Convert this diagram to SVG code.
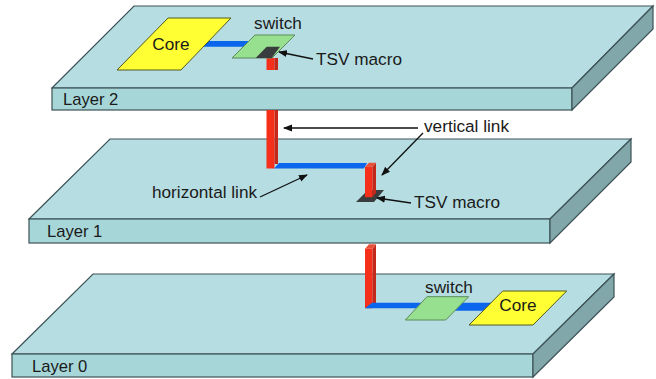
<svg xmlns="http://www.w3.org/2000/svg" width="656" height="379" viewBox="0 0 656 379">
<defs>
<marker id="ah" markerWidth="9" markerHeight="8" refX="8" refY="4" orient="auto" markerUnits="userSpaceOnUse"><path d="M0,0.5 L9,4 L0,7.5 Z" fill="#111"/></marker>
</defs>
<style>
text{font-family:"Liberation Sans",Arial,sans-serif;font-size:17.2px;fill:#1a1a1a}
.top{fill:#b6dde2;stroke:#3c5257;stroke-width:1.2}
.front{fill:#a7d6d9;stroke:#3c5257;stroke-width:1.2}
.side{fill:#82a7aa;stroke:#3c5257;stroke-width:1.2}
.red{fill:#f5301a}
.redside{fill:#c4281a}
.redtop{fill:#e8503c}
.blue{fill:#0b66ee}
.core{fill:#ffff33;stroke:#555a20;stroke-width:1}
.sw{fill:#96e08f;stroke:#5c8a5c;stroke-width:1}
.tsv{fill:#3a3d3d}
.arrow{stroke:#111;stroke-width:1.3;fill:none;marker-end:url(#ah)}
</style>
<rect width="656" height="379" fill="#fff"/>
<g id="layer0">
<polygon class="top" points="93,274 614,274 533,354 12,354"/>
<rect class="front" x="12" y="354" width="521" height="23"/>
<polygon class="side" points="614,274 614,297 533,377 533,354"/>
<text x="32" y="372" style="font-size:16.6px">Layer 0</text>
</g>
<g id="layer1">
<polygon class="top" points="110,139 631,139 550,219 29,219"/>
<rect class="front" x="29" y="219" width="521" height="24"/>
<polygon class="side" points="631,139 631,162 550,243 550,219"/>
<text x="47" y="237" style="font-size:16.6px">Layer 1</text>
</g>
<g id="layer2">
<polygon class="top" points="134,6 653,6 572,88 52,88"/>
<rect class="front" x="52" y="88" width="520" height="22"/>
<polygon class="side" points="653,6 653,29 572,110 572,88"/>
<text x="63" y="105" style="font-size:16.6px">Layer 2</text>
</g>
<g id="connectors">
<polygon class="blue" points="203,46.7 208,41 250,41 246,46.7"/>
<rect class="red" x="266.5" y="58" width="8" height="12"/>
<rect class="redside" x="274.5" y="58" width="3.5" height="12"/>
<rect class="red" x="266.5" y="110" width="8" height="58.5"/>
<rect class="redside" x="274.5" y="110" width="3.5" height="54"/>
<polygon class="blue" points="274,168.5 279,163 367,163 364,168.5"/>
<polygon class="tsv" points="356,202 368,190 384,190 374,202"/>
<polygon class="redtop" points="365,166.7 369,162.7 376,162.7 372.3,166.7"/>
<rect class="red" x="365" y="166.7" width="7.5" height="30.5"/>
<polygon class="redside" points="372.5,166.7 376,162.7 376,193 372.5,197"/>
<polygon class="redtop" points="365,248.7 369,244.3 376,244.3 372.3,248.7"/>
<rect class="red" x="365" y="248.7" width="7.5" height="59.5"/>
<polygon class="redside" points="372.5,248.7 376,244.3 376,303 372.5,303"/>
<polygon class="blue" points="365,308.3 372,302.7 425,302.7 420,308.3"/>
<polygon class="blue" points="450,302.7 500,302.7 495,310.7 455,310.7"/>
<line class="arrow" x1="313" y1="59" x2="279" y2="52"/>
<line class="arrow" x1="418" y1="128" x2="284" y2="128"/>
<line class="arrow" x1="423" y1="133" x2="382" y2="175"/>
<line class="arrow" x1="260" y1="197" x2="307" y2="175"/>
<line class="arrow" x1="411" y1="203" x2="377" y2="198"/>
</g>
<g id="core2">
<polygon class="core" points="168,18 231,18 181,70 117,70"/>
<text x="171" y="50" text-anchor="middle">Core</text>
</g>
<g id="switch2">
<polygon class="sw" points="255,35 295,35 272,58 232,58"/>
<polygon class="tsv" points="255.7,58 266.7,46.7 280,46.7 271.7,58"/>
<text x="278" y="29" text-anchor="middle">switch</text>
</g>
<g id="switch0">
<polygon class="sw" points="427,296.7 468.7,296.7 445.7,320 405.3,320"/>
<text x="449" y="293" text-anchor="middle">switch</text>
</g>
<g id="core0">
<polygon class="core" points="502.7,291 566.7,291 533,325 469,325"/>
<text x="518" y="311" text-anchor="middle">Core</text>
</g>
<g id="labels">
<text x="316" y="65">TSV macro</text>
<text x="424" y="132">vertical link</text>
<text x="152" y="198">horizontal link</text>
<text x="414" y="208">TSV macro</text>
</g>
</svg>
